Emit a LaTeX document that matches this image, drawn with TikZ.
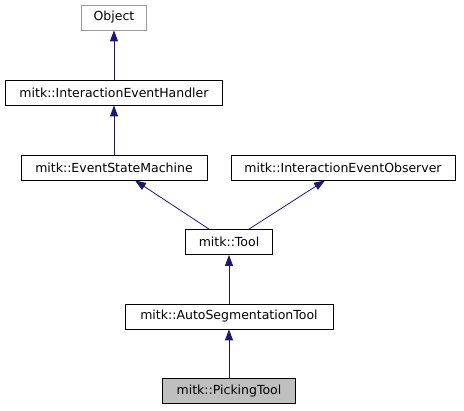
\documentclass[tikz,border=0pt]{standalone}
\usepackage{fontspec}
\setmainfont{DejaVu Sans}
\usetikzlibrary{arrows.meta}
\definecolor{edgeblue}{HTML}{191970}
\tikzset{
  cls/.style={draw=black, line width=0.8pt, rectangle, inner sep=0pt, minimum height=25pt, font=\fontsize{12.5}{14}\selectfont, text=black},
  ext/.style={cls, draw=black!40},
  cur/.style={cls, fill=black!25},
  edge/.style={draw=edgeblue, line width=0.8pt, -{Triangle[length=11pt,width=8pt]}}
}
\begin{document}
\begin{tikzpicture}[x=1pt,y=-1pt]
\useasboundingbox (0,0) rectangle (464,411);
\node[ext, minimum width=65pt] (obj) at (114,17.5) {Object};
\node[cls, minimum width=217pt] (ieh) at (114,92.5) {mitk::InteractionEventHandler};
\node[cls, minimum width=186pt] (esm) at (114,167.5) {mitk::EventStateMachine};
\node[cls, minimum width=224pt] (ieo) at (343,167.5) {mitk::InteractionEventObserver};
\node[cls, minimum width=87pt] (tool) at (229,242) {mitk::Tool};
\node[cls, minimum width=208pt] (ast) at (229,316.5) {mitk::AutoSegmentationTool};
\node[cur, minimum width=133pt] (pick) at (229,391) {mitk::PickingTool};
\draw[edge] (ieh.north) -- (obj.south);
\draw[edge] (esm.north) -- (ieh.south);
\draw[edge] ([xshift=-20pt]tool.north) -- ([xshift=21pt]esm.south);
\draw[edge] ([xshift=20pt]tool.north) -- ([xshift=-18pt]ieo.south);
\draw[edge] (ast.north) -- (tool.south);
\draw[edge] (pick.north) -- (ast.south);
\end{tikzpicture}
\end{document}
